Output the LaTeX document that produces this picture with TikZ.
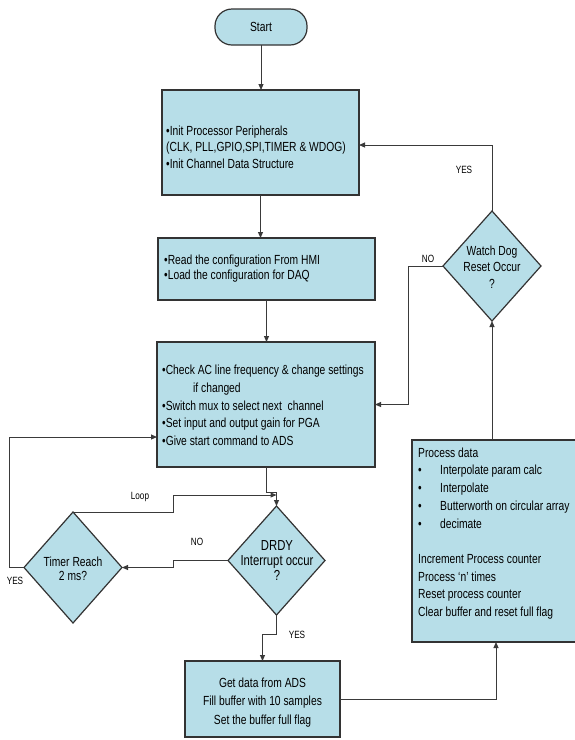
\documentclass[tikz,border=0pt]{standalone}
\usepackage{fontspec}
\setmainfont[FakeStretch=0.78]{Liberation Sans}
\usetikzlibrary{arrows.meta,shapes.geometric}
\definecolor{boxfill}{HTML}{B7DEE8}
\definecolor{edge}{HTML}{333333}
\definecolor{conn}{HTML}{3A3A3A}
\begin{document}
\begin{tikzpicture}[x=1pt,y=-1pt,
  box/.style={draw=edge, line width=1.2pt, fill=boxfill, rectangle, inner sep=0pt, outer sep=0pt},
  dia/.style={draw=edge, line width=1.2pt, fill=boxfill, diamond, inner sep=0pt, outer sep=0pt},
  txt/.style={font=\fontsize{13.2}{17.7}\selectfont, inner sep=0pt, align=left},
  lbl/.style={font=\fontsize{10.5}{12}\selectfont, inner sep=0pt},
  arr/.style={draw=conn, line width=1pt, -{Triangle[length=6pt,width=5pt]}}]
\useasboundingbox (0,0) rectangle (574,740);
\fill[white] (0,0) rectangle (574,740);

% boxes
\node[box, rounded corners=17pt, minimum width=92pt, minimum height=36pt] (start) at (261,27) {};
\node[txt, align=center] (startt) at (start.center) {Start};

\node[box, minimum width=197pt, minimum height=105pt] (init) at (260.5,142.5) {};
\node[txt, font=\fontsize{13.2}{16.5}\selectfont, anchor=west] (initt) at (166,147)
  {•Init Processor Peripherals\\(CLK, PLL,GPIO,SPI,TIMER \& WDOG)\\•Init Channel Data Structure};

\node[box, minimum width=217pt, minimum height=62pt] (read) at (266.5,269) {};
\node[txt, font=\fontsize{13.2}{15}\selectfont, anchor=west] (readt) at (164,269)
  {•Read the configuration From HMI\\•Load the configuration for DAQ};

\node[box, minimum width=218pt, minimum height=125pt] (check) at (266,404.5) {};
\node[txt, anchor=west] (checkt) at (162,405.5)
  {•Check AC line frequency \& change settings\\\hspace*{31pt}if changed\\•Switch mux to select next\ \ channel\\•Set input and output gain for PGA\\•Give start command to ADS};

\node[box, minimum width=168pt, minimum height=202pt] (process) at (496,541) {};
\node[txt, anchor=west] (processt) at (418,533.5)
  {Process data\\
   \makebox[22pt][l]{•}Interpolate param calc\\
   \makebox[22pt][l]{•}Interpolate\\
   \makebox[22pt][l]{•}Butterworth on circular array\\
   \makebox[22pt][l]{•}decimate\\[17.7pt]
   Increment Process counter\\
   Process ‘n’ times\\
   Reset process counter\\
   Clear buffer and reset full flag};

\node[box, minimum width=155pt, minimum height=76pt] (get) at (262.5,699) {};
\node[txt, font=\fontsize{13.2}{18.5}\selectfont, align=center] (gett) at (262.5,702.5)
  {Get data from ADS\\Fill buffer with 10 samples\\Set the buffer full flag};

% diamonds
\node[dia, minimum width=98pt, minimum height=110pt] (wd) at (492,266) {};
\node[txt, font=\fontsize{13.2}{16.5}\selectfont, align=center] (wdt) at (492,267)
  {Watch Dog\\Reset Occur\\?};

\node[dia, minimum width=98pt, minimum height=111pt] (timer) at (73,567.5) {};
\node[txt, font=\fontsize{13.2}{14.5}\selectfont, align=center] (timert) at (73,569)
  {Timer Reach\\2 ms?};

\node[dia, minimum width=97pt, minimum height=109pt] (drdy) at (276.5,560.5) {};
\node[txt, font=\fontsize{14.5}{15}\selectfont, align=center] (drdyt) at (277,561)
  {DRDY\\Interrupt occur\\?};

% helper coordinates
\coordinate (h145) at (0,145);
\coordinate (j1) at (266,492);
\coordinate (nj) at (408,266);
\coordinate (dj) at (173,560.5);
\coordinate (lj) at (173,495);
\coordinate (yl) at (9,437);

% connectors
\draw[arr] (start.south) -- (start.south |- init.north);
\draw[arr] (init.south) -- (init.south |- read.north);
\draw[arr] (read.south) -- (read.south |- check.north);
\draw[arr] (check.south) -- (check.south |- j1) -| (drdy.north);
\draw[arr] (drdy.south) -- ++(0,19) -| (get.north);
\draw[arr] (get.east) -| (process.south);
\draw[arr] (wd.south |- process.north) -- (wd.south);
\draw[arr] (wd.north) |- (init.east |- h145);
\draw[arr] (wd.west) -- (nj) |- (check.east);
\draw[arr] (drdy.west) -- (dj) |- (timer.east);
\draw[arr] (timer.north) -| (lj) -- (lj -| drdy.north);
\draw[arr] (timer.west) -| (yl) -- (yl -| check.west);

% labels
\node[lbl] (no1) at (428,259) {NO};
\node[lbl] (no2) at (197,542) {NO};
\node[lbl] (looplbl) at (140,497) {Loop};
\node[lbl] (yes1) at (15,581) {YES};
\node[lbl] (yes2) at (297,635) {YES};
\node[lbl] (yes3) at (464,170) {YES};
\end{tikzpicture}
\end{document}
